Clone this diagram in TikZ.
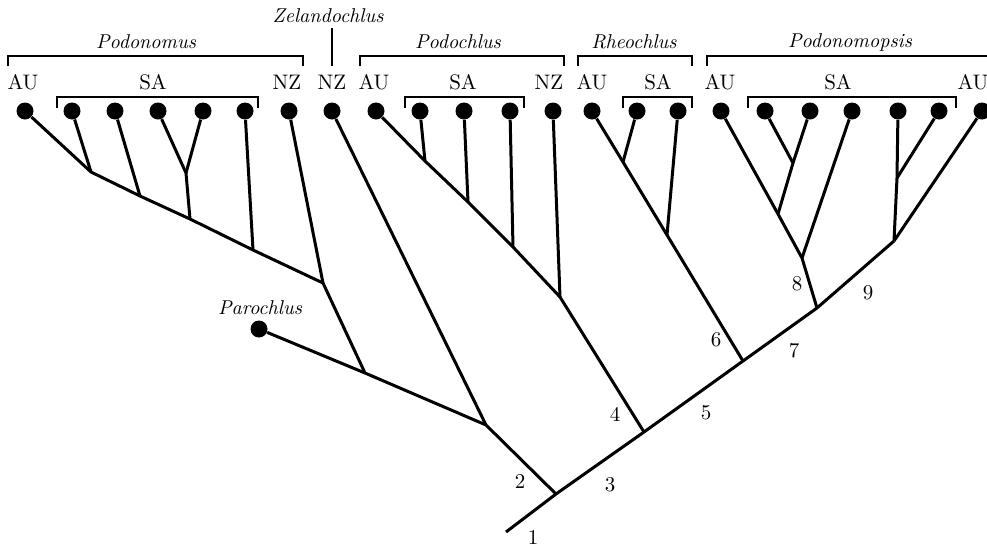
\documentclass[tikz,border=0pt]{standalone}
\usepackage{tikz}
\usetikzlibrary{positioning}

\begin{document}
\begin{tikzpicture}[x=0.5pt, y=-0.5pt,
  tip/.style={circle, fill=black, inner sep=0pt, minimum size=8.5pt},
  branch/.style={line width=1.5pt, line join=round},
  bracket/.style={line width=0.9pt},
  area/.style={font=\fontsize{10.5}{12}\selectfont, inner sep=0pt},
  genus/.style={font=\fontsize{10}{12}\selectfont\itshape, inner sep=0pt},
  num/.style={font=\fontsize{10.5}{12}\selectfont, inner sep=0pt}]
\useasboundingbox (0,0) rectangle (987,547);

% Genus brackets
\draw[bracket] (8,66) -- (8,56) -- (303,56) -- (303,66);
\draw[bracket] (332,28) -- (332,66);
\draw[bracket] (360,66) -- (360,56) -- (564,56) -- (564,66);
\draw[bracket] (578,66) -- (578,56) -- (692,56) -- (692,66);
\draw[bracket] (707,66) -- (707,56) -- (1000,56);
\node[genus] (gPodonomus) at (146,42) {Podonomus};
\node[genus] (gZelandochlus) at (328,16) {Zelandochlus};
\node[genus] (gPodochlus) at (458,42) {Podochlus};
\node[genus] (gRheochlus) at (634,42) {Rheochlus};
\node[genus] (gPodonomopsis) at (850,42) {Podonomopsis};

% Area labels
\node[area] (aPAU) at (23,82) {AU};
\node[area] (aPSA) at (153,82) {SA};
\node[area] (aPNZ) at (287,82) {NZ};
\node[area] (aZNZ) at (332,82) {NZ};
\node[area] (aDAU) at (374,82) {AU};
\node[area] (aDSA) at (463,82) {SA};
\node[area] (aDNZ) at (549,82) {NZ};
\node[area] (aRAU) at (592,82) {AU};
\node[area] (aRSA) at (658,82) {SA};
\node[area] (aOAU) at (720,82) {AU};
\node[area] (aOSA) at (838,82) {SA};
\node[area] (aOAU2) at (973,82) {AU};

% SA brackets
\draw[bracket] (57,108) -- (57,97) -- (258,97) -- (258,108);
\draw[bracket] (405,108) -- (405,97) -- (524,97) -- (524,108);
\draw[bracket] (623,108) -- (623,97) -- (692,97) -- (692,108);
\draw[bracket] (748,108) -- (748,97) -- (956,97) -- (956,108);

% Terminal taxa
\foreach \n/\x in {pAU/25, pSA1/72, pSA2/115, pSA3/158, pSA4/203, pSA5/245, pNZ/289,
                   zNZ/332, dAU/376, dSA1/420, dSA2/464, dSA3/510, dNZ/553,
                   rAU/592, rSA1/637, rSA2/678,
                   oAU/721, oSA1/765, oSA2/810, oSA3/852, oSA4/898, oSA5/939, oAU2/982}
  \node[tip] (\n) at (\x,111) {};
\node[tip] (par) at (259,329) {};
\node[genus] (gParochlus) at (260,308) {Parochlus};

% Junctions
\coordinate (s1) at (506,532);
\coordinate (s2) at (556,494);
\coordinate (s4) at (644,432);
\coordinate (s6) at (743,361);
\coordinate (s8) at (817,308);
\coordinate (s9) at (894,241);
\coordinate (jZ) at (486,425);
\coordinate (jPar) at (365,373);
\coordinate (pa) at (91,172);
\coordinate (pb) at (140,196);
\coordinate (pc) at (190,219);
\coordinate (pcc) at (186,173);
\coordinate (pd) at (253,250);
\coordinate (pe) at (323,283);
\coordinate (da) at (425,161);
\coordinate (db) at (468,202);
\coordinate (dc) at (513,247);
\coordinate (dd) at (560,297);
\coordinate (ra) at (623,162);
\coordinate (rb) at (667,235);
\coordinate (oa) at (793,163);
\coordinate (ob) at (778,214);
\coordinate (oc) at (802,258);
\coordinate (od) at (897,178);

% Spine
\draw[branch] (s1) -- (s2) -- (s4) -- (s6) -- (s8) -- (s9);

% Parochlus, Zelandochlus and Podonomus
\draw[branch] (s2) -- (jZ) -- (zNZ);
\draw[branch] (jZ) -- (jPar) -- (par);
\draw[branch] (jPar) -- (pe) -- (pd) -- (pc) -- (pb) -- (pa) -- (pAU);
\draw[branch] (pe) -- (pNZ);
\draw[branch] (pa) -- (pSA1);
\draw[branch] (pb) -- (pSA2);
\draw[branch] (pc) -- (pcc) -- (pSA3);
\draw[branch] (pcc) -- (pSA4);
\draw[branch] (pd) -- (pSA5);

% Podochlus
\draw[branch] (s4) -- (dd) -- (dc) -- (db) -- (da) -- (dAU);
\draw[branch] (da) -- (dSA1);
\draw[branch] (db) -- (dSA2);
\draw[branch] (dc) -- (dSA3);
\draw[branch] (dd) -- (dNZ);

% Rheochlus
\draw[branch] (s6) -- (rb) -- (ra) -- (rAU);
\draw[branch] (ra) -- (rSA1);
\draw[branch] (rb) -- (rSA2);

% Podonomopsis
\draw[branch] (s8) -- (oc) -- (ob) -- (oAU);
\draw[branch] (ob) -- (oa) -- (oSA1);
\draw[branch] (oa) -- (oSA2);
\draw[branch] (oc) -- (oSA3);
\draw[branch] (s9) -- (od) -- (oSA4);
\draw[branch] (od) -- (oSA5);
\draw[branch] (s9) -- (oAU2);

% Branch numbers
\node[num] (l1) at (533,537) {1};
\node[num] (l2) at (520,482) {2};
\node[num] (l3) at (610,485) {3};
\node[num] (l4) at (615,414) {4};
\node[num] (l5) at (706,413) {5};
\node[num] (l6) at (716,340) {6};
\node[num] (l7) at (794,351) {7};
\node[num] (l8) at (797,284) {8};
\node[num] (l9) at (868,293) {9};

\end{tikzpicture}
\end{document}
